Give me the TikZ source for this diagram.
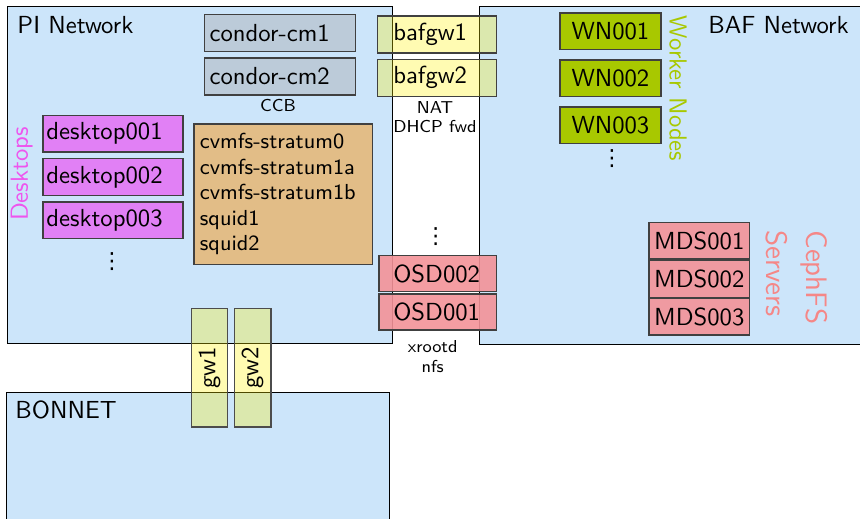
\documentclass[tikz,border=0pt]{standalone}
\usepackage{fontspec}
\newfontfamily\dejavu{DejaVu Sans}
\newcommand\px{0.405pt}
\definecolor{netblue}{RGB}{204,229,250}
\definecolor{condorgray}{RGB}{188,203,217}
\definecolor{wngreen}{RGB}{168,200,0}
\definecolor{deskviolet}{RGB}{225,128,245}
\definecolor{desklabel}{RGB}{238,85,238}
\definecolor{cvmfstan}{RGB}{226,189,135}
\definecolor{salmon}{RGB}{243,146,152}
\definecolor{cephlabel}{RGB}{245,135,135}
\tikzset{
  net/.style={draw=black, fill=netblue, line width=0.45pt, anchor=north west, inner sep=0pt},
  srv/.style={draw=black!75, line width=0.5pt, anchor=north west, inner sep=0pt,
    font=\sffamily\fontsize{10}{12}\selectfont},
  lbox/.style 2 args={srv, inner xsep=#2*\px, text width=(#1-2*#2)*\px, align=left},
  cbox/.style={srv, align=center, minimum width=#1*\px},
  hgt/.style={minimum height=#1*\px},
  condor/.style={fill=condorgray},
  gwfill/.style={fill=yellow, fill opacity=0.3, text opacity=1},
  osd/.style={fill=salmon, fill opacity=0.9, text opacity=1},
  wn/.style={fill=wngreen},
  desk/.style={fill=deskviolet},
  netlabel/.style={font=\sffamily\fontsize{10}{12}\selectfont, inner sep=0pt, anchor=base west},
  small/.style={font=\sffamily\fontsize{7}{8}\selectfont, align=center, inner sep=0pt},
  dots/.style={inner sep=0pt, anchor=center, font=\dejavu\fontsize{9}{10}\selectfont},
}
\begin{document}
\begin{tikzpicture}[x=\px, y=-\px]
\useasboundingbox (0,0) rectangle (860,518);
% networks
\node[net, minimum width=385*\px, minimum height=337*\px] (pi) at (7,6) {};
\node[net, minimum width=396*\px, minimum height=338*\px] (baf) at (479,6) {};
\node[net, minimum width=383*\px, minimum height=148*\px] (bonnet) at (6,392) {};
\node[netlabel] (pilabel) at (17,33) {PI Network};
\node[netlabel] (baflabel) at (708,33) {BAF Network};
\node[netlabel] (bonnetlabel) at (15,418) {BONNET};
% condor
\node[lbox={151}{5}, hgt=37, condor] (cm1) at (204,14) {condor-cm1};
\node[lbox={151}{5}, hgt=37, condor] (cm2) at (204,57.3) {condor-cm2};
\node[small] (ccb) at (278,105) {CCB};
% bafgw
\node[lbox={119}{16}, hgt=37, gwfill] (bafgw1) at (376.7,15.3) {bafgw1};
\node[lbox={119}{16}, hgt=37, gwfill] (bafgw2) at (376.7,58.7) {bafgw2};
\node[small] (nat) at (435,117) {NAT\\DHCP fwd};
% worker nodes
\node[cbox=101, hgt=36.5, wn] (wn1) at (559.3,12.3) {WN001};
\node[cbox=101, hgt=36.5, wn] (wn2) at (559.3,59.3) {WN002};
\node[cbox=101, hgt=36.5, wn] (wn3) at (559.3,106.3) {WN003};
\node[dots] (wndots) at (612,158.5) {⋮};
\node[rotate=-90, font=\sffamily\fontsize{10}{12}\selectfont, text=wngreen, inner sep=0pt] (wnlabel) at (678,88.5) {Worker Nodes};
% desktops
\node[lbox={140}{3.4}, hgt=36.6, desk] (d1) at (42.3,114.7) {desktop001};
\node[lbox={140}{3.4}, hgt=36.6, desk] (d2) at (42.3,158) {desktop002};
\node[lbox={140}{3.4}, hgt=36.6, desk] (d3) at (42.3,201.3) {desktop003};
\node[dots] (ddots) at (112,261.5) {⋮};
\node[rotate=90, font=\sffamily\fontsize{10}{12}\selectfont, text=desklabel, inner sep=0pt] (desklabel) at (21.7,174) {Desktops};
% cvmfs
\node[lbox={178.4}{6}, hgt=140.7, fill=cvmfstan, font=\sffamily\fontsize{8.8}{10.3}\selectfont] (cvmfs) at (193.3,123.3)
  {cvmfs-stratum0\\cvmfs-stratum1a\\cvmfs-stratum1b\\squid1\\squid2};
% OSD
\node[dots] (osddots) at (435.7,236.5) {⋮};
\node[lbox={117.4}{14.4}, hgt=36, osd] (osd2) at (378.3,255) {OSD002};
\node[lbox={117.4}{14.4}, hgt=36, osd] (osd1) at (378.3,293.3) {OSD001};
\node[small] (xrootd) at (432.7,356.7) {xrootd\\nfs};
% MDS
\node[cbox=100.7, hgt=36.6, osd] (mds1) at (648.3,221.7) {MDS001};
\node[cbox=100.7, hgt=36.6, osd] (mds2) at (648.3,260) {MDS002};
\node[cbox=100.7, hgt=36.6, osd] (mds3) at (648.3,297.7) {MDS003};
\node[rotate=-90, anchor=north west, align=left, font=\sffamily\fontsize{12}{16}\selectfont, text=cephlabel, inner sep=0pt] (ceph) at (828,230) {CephFS\\Servers};
% gateways
\node[srv, anchor=center, rotate=90, minimum width=118.7*\px, minimum height=36.4*\px, gwfill, draw=black!70] (gw1) at (209.5,367.65) {gw1};
\node[srv, anchor=center, rotate=90, minimum width=118.7*\px, minimum height=36.7*\px, gwfill, draw=black!70] (gw2) at (252.65,367.65) {gw2};
\end{tikzpicture}
\end{document}
